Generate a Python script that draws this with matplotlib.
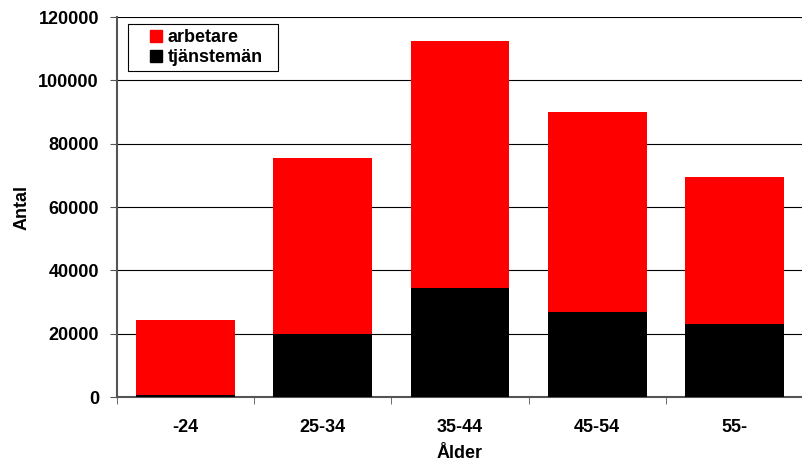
import numpy as np
import matplotlib.pyplot as plt
from matplotlib.lines import Line2D

plt.rcParams.update({
    "font.family": ["Liberation Sans", "DejaVu Sans"],
    "font.weight": "bold",
    "font.size": 13,
})

aldersgrupper = ["-24", "25-34", "35-44", "45-54", "55-"]
tjansteman = [600, 19900, 34400, 26900, 23100]
arbetare_total = [24400, 75600, 112400, 90000, 69600]
arbetare = [t - b for t, b in zip(arbetare_total, tjansteman)]

fig = plt.figure(figsize=(8.03, 4.65), dpi=100)
ax = fig.add_axes([0.1457, 0.1462, 0.8543, 0.8172])

x = np.arange(len(aldersgrupper))
ax.bar(x, tjansteman, width=0.72, color="black", zorder=3)
ax.bar(x, arbetare, bottom=tjansteman, width=0.72, color="#ff0000", zorder=3)

ax.set_xlim(-0.5, len(aldersgrupper) - 0.5)
ax.set_ylim(0, 120000)
ax.set_yticks(np.arange(0, 120001, 20000))
ax.grid(True, axis="y", color="black", linewidth=0.8, zorder=0)

ax.set_xticks(x)
ax.set_xticklabels(aldersgrupper)
ax.set_xticks(np.arange(-0.5, len(aldersgrupper), 1), minor=True)
ax.tick_params(axis="x", which="major", length=0, pad=16)
ax.tick_params(axis="x", which="minor", length=5, direction="out", color="#555555")
ax.tick_params(axis="y", length=5, direction="out", color="#555555", pad=8)

for side in ["top", "right"]:
    ax.spines[side].set_visible(False)
for side in ["left", "bottom"]:
    ax.spines[side].set_color("#555555")
    ax.spines[side].set_linewidth(1.5)

ax.set_xlabel("Ålder", fontweight="bold")
ax.set_ylabel("Antal", fontweight="bold")
ax.xaxis.set_label_coords(0.5, -0.125)
ax.yaxis.set_label_coords(-0.126, 0.5)

handles = [
    Line2D([], [], linestyle="none", marker="s", markersize=8,
           markerfacecolor="#ff0000", markeredgecolor="#ff0000", label="arbetare"),
    Line2D([], [], linestyle="none", marker="s", markersize=8,
           markerfacecolor="black", markeredgecolor="black", label="tjänstemän"),
]
leg = ax.legend(handles=handles, loc="upper left",
                bbox_to_anchor=(0.016, 0.0, 0.2187, 0.982), mode="expand",
                borderaxespad=0, fancybox=False, framealpha=1, edgecolor="black",
                handlelength=2.5, handletextpad=-0.61,
                borderpad=0.3, labelspacing=0.15)
leg.get_frame().set_linewidth(0.8)

fig.savefig("out.png", dpi=100)
